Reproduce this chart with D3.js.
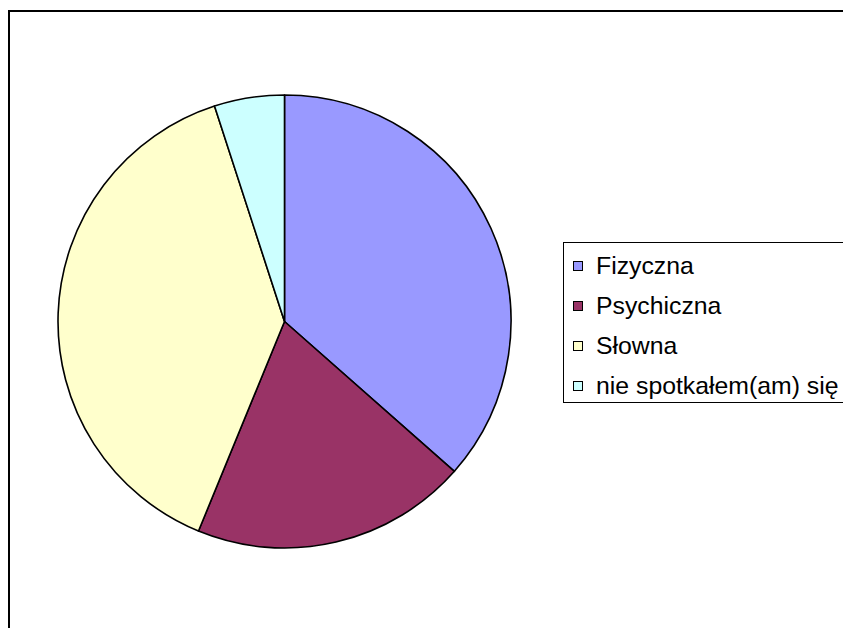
<!DOCTYPE html>
<html>
<head>
    <meta charset="utf-8">
    <title>Pie</title>
    <script src="https://d3js.org/d3.v7.min.js"></script>
    <style>
        body { margin: 0; background: #fff; }
        text { font-family: "Liberation Sans", Arial, sans-serif; }
    </style>
</head>
<body>
<div id="chart"></div>
<script type="text/javascript">
    // data (percent of answers)
    const categories = ['Fizyczna', 'Psychiczna', 'Słowna', 'nie spotkałem(am) się'];
    const values = [36.5, 19.7, 38.8, 5];
    const colors = ['#9999FF', '#993366', '#FFFFCC', '#CCFFFF'];

    const width = 843;
    const height = 628;

    const svg = d3.select('#chart').append('svg')
        .attr('width', width).attr('height', height);

    // chart area frame (runs off the right and bottom edge)
    svg.append('rect')
        .attr('x', 9).attr('y', 11)
        .attr('width', width + 20).attr('height', height + 20)
        .attr('fill', 'none').attr('stroke', '#000').attr('stroke-width', 2);

    const cx = 284.5, cy = 321.5, radius = 226.5;

    const pie = d3.pie().sort(null).value(d => d.value);
    const arc = d3.arc().innerRadius(0).outerRadius(radius);

    const slices = categories.map((c, i) => ({name: c, value: values[i], color: colors[i]}));

    const g = svg.append('g').attr('transform', `translate(${cx},${cy})`);
    g.selectAll('path')
        .data(pie(slices))
        .enter()
        .append('path')
        .attr('d', arc)
        .attr('fill', d => d.data.color)
        .attr('stroke', '#000')
        .attr('stroke-width', 1.6)
        .attr('stroke-linejoin', 'round');

    // legend
    const legend = svg.append('g');
    legend.append('rect')
        .attr('x', 563.5).attr('y', 242.5)
        .attr('width', 300).attr('height', 160)
        .attr('fill', '#fff').attr('stroke', '#000').attr('stroke-width', 1);

    const item = legend.selectAll('g.item')
        .data(slices)
        .enter()
        .append('g')
        .attr('class', 'item')
        .attr('transform', (d, i) => `translate(0,${266 + i * 40})`);

    item.append('rect')
        .attr('x', 573.5).attr('y', -4.5)
        .attr('width', 9).attr('height', 9)
        .attr('fill', d => d.color)
        .attr('stroke', '#000').attr('stroke-width', 1);

    item.append('text')
        .attr('x', 596).attr('y', 8)
        .attr('font-size', 24.8)
        .attr('fill', '#000')
        .text(d => d.name);
</script>
</body>
</html>
